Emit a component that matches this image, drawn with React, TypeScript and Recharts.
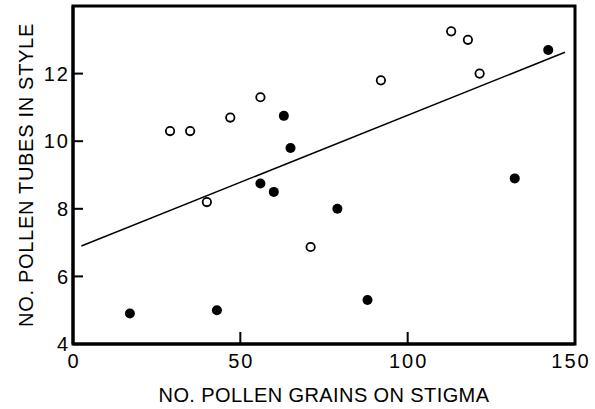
import { ScatterChart, Scatter, XAxis, YAxis, ReferenceArea } from "recharts";

// values
const openPoints = [
  { x: 29, y: 10.3 },
  { x: 35, y: 10.3 },
  { x: 40, y: 8.2 },
  { x: 47, y: 10.7 },
  { x: 56, y: 11.3 },
  { x: 71, y: 6.87 },
  { x: 92, y: 11.8 },
  { x: 113, y: 13.25 },
  { x: 118, y: 13.0 },
  { x: 121.5, y: 12.0 },
];

const filledPoints = [
  { x: 17, y: 4.9 },
  { x: 43, y: 5.0 },
  { x: 56, y: 8.75 },
  { x: 60, y: 8.5 },
  { x: 63, y: 10.75 },
  { x: 65, y: 9.8 },
  { x: 79, y: 8.0 },
  { x: 88, y: 5.3 },
  { x: 132, y: 8.9 },
  { x: 142, y: 12.7 },
];

const fitLine = [
  { x: 2.5, y: 6.9 },
  { x: 147, y: 12.63 },
];

const xTicks = [0, 50, 100, 150];
const yTicks = [4, 6, 8, 10, 12];
const xDomain = [0, 150];
const yDomain = [4, 14];

const font = "'Liberation Sans', Arial, sans-serif";
const frame = { stroke: "#000", strokeWidth: 3 };

// anchor points for the inward tick marks, taken from the tick lists
const xTickMarks = xTicks.slice(1, -1).map((t) => ({ x: t, y: yDomain[0] }));
const yTickMarks = yTicks.slice(1).map((t) => ({ x: xDomain[0], y: t }));

function renderXTick(props: any) {
  const { x, y, payload } = props;
  const shift = payload.value === 150 ? -4 : 1;
  return (
    <text x={x + shift} y={y} dy="0.71em" textAnchor="middle" fontSize={20} letterSpacing={2} fontFamily={font} fill="#000">
      {payload.value}
    </text>
  );
}

function renderYTick(props: any) {
  const { x, y, payload } = props;
  return (
    <text x={x} y={y} dy="0.355em" textAnchor="end" fontSize={20} letterSpacing={2} fontFamily={font} fill="#000">
      {payload.value}
    </text>
  );
}

const OpenDot = (p: any) => <circle cx={p.cx} cy={p.cy} r={4.2} fill="#fff" stroke="#000" strokeWidth={1.8} />;
const FilledDot = (p: any) => <circle cx={p.cx} cy={p.cy} r={5} fill="#000" />;
const NoDot = () => <g />;
const UpTick = (p: any) => <rect x={p.cx - 1} y={p.cy - 12} width={2} height={12} fill="#000" />;
const RightTick = (p: any) => <rect x={p.cx} y={p.cy - 1} width={10} height={2} fill="#000" />;

export default function App() {
  return (
    <div style={{ position: "absolute", left: 0, top: 0, background: "#fff" }}>
      <ScatterChart width={595} height={409} margin={{ top: 6, right: 20, bottom: 0, left: 0 }}>
        <XAxis
          type="number"
          dataKey="x"
          domain={xDomain}
          ticks={xTicks}
          axisLine={frame}
          tickLine={false}
          tickSize={0}
          tickMargin={10}
          tick={renderXTick}
          height={65}
          label={{
            value: "NO. POLLEN GRAINS ON STIGMA",
            position: "insideBottom",
            offset: 7,
            style: { fontSize: 20, fontFamily: font, fill: "#000", letterSpacing: 0.4 },
          }}
        />
        <YAxis
          type="number"
          dataKey="y"
          domain={yDomain}
          ticks={yTicks}
          axisLine={frame}
          tickLine={false}
          tickSize={0}
          tickMargin={3}
          tick={renderYTick}
          width={73}
          label={{
            value: "NO. POLLEN TUBES IN STYLE",
            angle: -90,
            position: "insideLeft",
            offset: 26,
            style: { fontSize: 20, fontFamily: font, fill: "#000", letterSpacing: 0.7, textAnchor: "middle" },
          }}
        />
        <ReferenceArea
          x1={xDomain[0]}
          x2={xDomain[1]}
          y1={yDomain[0]}
          y2={yDomain[1]}
          fill="none"
          fillOpacity={0}
          stroke="#000"
          strokeWidth={3}
          strokeOpacity={1}
        />
        <Scatter data={xTickMarks} shape={<UpTick />} isAnimationActive={false} />
        <Scatter data={yTickMarks} shape={<RightTick />} isAnimationActive={false} />
        <Scatter data={fitLine} line={{ stroke: "#000", strokeWidth: 1.5 }} shape={<NoDot />} isAnimationActive={false} />
        <Scatter data={openPoints} shape={<OpenDot />} isAnimationActive={false} />
        <Scatter data={filledPoints} shape={<FilledDot />} isAnimationActive={false} />
      </ScatterChart>
    </div>
  );
}
